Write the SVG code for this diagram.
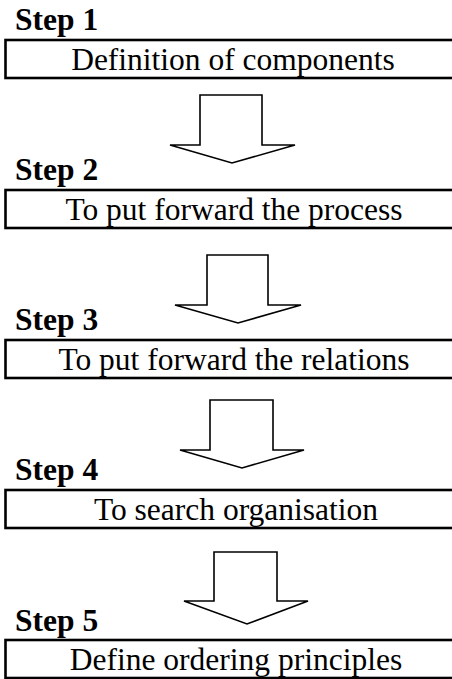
<svg xmlns="http://www.w3.org/2000/svg" width="452" height="679" viewBox="0 0 452 679">
<style>
.box{fill:#fff;stroke:#000;stroke-width:2.6}
.lbl{font-size:31.5px;font-weight:bold;fill:#000}
.txt{font-size:31.5px;fill:#000;text-anchor:middle}
.arr{fill:#fff;stroke:#000;stroke-width:1.6;stroke-linejoin:miter}
</style>
<rect width="452" height="679" fill="#fff"/>
<g id="step1" font-family="Liberation Serif, Times New Roman, DejaVu Serif, serif">
<text class="lbl" x="15" y="30">Step 1</text>
<rect class="box" x="5.5" y="40" width="460" height="38"/>
<text class="txt" x="233" y="70">Definition of components</text>
</g>
<g id="step2" font-family="Liberation Serif, Times New Roman, DejaVu Serif, serif">
<text class="lbl" x="15" y="180">Step 2</text>
<rect class="box" x="5.5" y="190" width="460" height="38"/>
<text class="txt" x="234" y="220">To put forward the process</text>
</g>
<g id="step3" font-family="Liberation Serif, Times New Roman, DejaVu Serif, serif">
<text class="lbl" x="15" y="330">Step 3</text>
<rect class="box" x="5.5" y="340" width="460" height="38"/>
<text class="txt" x="234" y="370">To put forward the relations</text>
</g>
<g id="step4" font-family="Liberation Serif, Times New Roman, DejaVu Serif, serif">
<text class="lbl" x="15" y="480">Step 4</text>
<rect class="box" x="5.5" y="490" width="460" height="38"/>
<text class="txt" x="236" y="520">To search organisation</text>
</g>
<g id="step5" font-family="Liberation Serif, Times New Roman, DejaVu Serif, serif">
<text class="lbl" x="15" y="631">Step 5</text>
<rect class="box" x="5.5" y="640" width="460" height="38"/>
<text class="txt" x="236" y="670">Define ordering principles</text>
</g>
<g id="connectors">
<polygon class="arr" points="200,95 262,95 262,145 295,145 232,163 170,145 200,145"/>
<polygon class="arr" points="207,255 268,255 268,305 301,305 238,323 175,305 207,305"/>
<polygon class="arr" points="210,400 273,400 273,450 304,450 242,468 180,450 210,450"/>
<polygon class="arr" points="214,552 277,552 277,601 308,601 247,624 184,601 214,601"/>
</g>
</svg>
